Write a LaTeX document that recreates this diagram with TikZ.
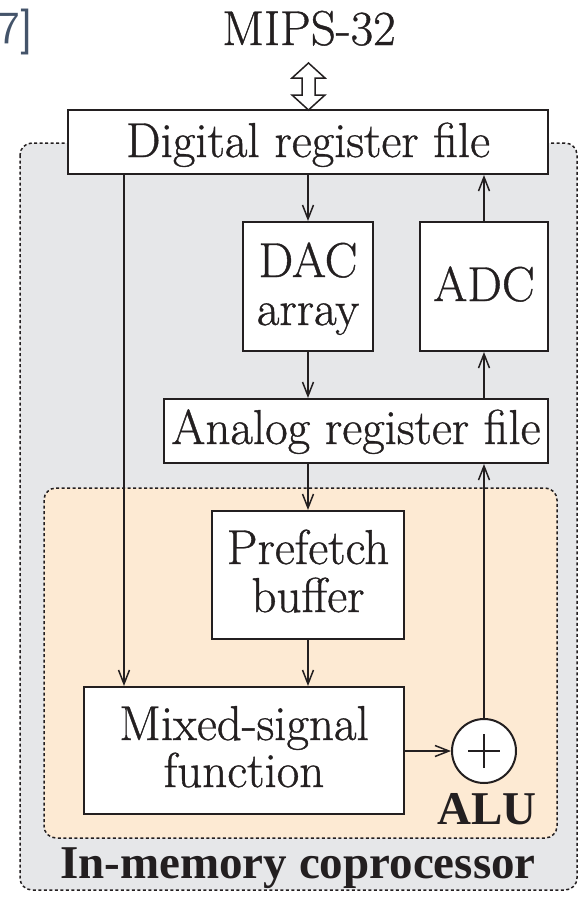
\documentclass[tikz,border=0pt]{standalone}
\usepackage{fontspec}
\setmainfont{Latin Modern Roman}[FakeBold=0.8]
\newfontfamily\timesbold{Liberation Serif}
\usetikzlibrary{arrows.meta}
\definecolor{coregray}{RGB}{230,231,233}
\definecolor{alucream}{RGB}{253,234,211}
\definecolor{inkline}{RGB}{35,31,32}
\definecolor{citeblue}{RGB}{68,84,106}
\tikzset{
  box/.style={draw=inkline, line width=2pt, fill=white, inner sep=0pt},
  txt/.style={text=inkline, inner sep=0pt, font=\fontsize{49}{56}\selectfont, anchor=base},
  bold/.style={text=inkline, inner sep=0pt, font=\timesbold\fontsize{47}{56}\selectfont\bfseries, anchor=base},
  region/.style={draw=inkline, line width=1.5pt, dash pattern=on 3pt off 2.5pt, rounded corners=12pt},
  arr/.style={draw=inkline, line width=1.5pt, -{Straight Barb[length=14pt,width=11pt,line width=1.5pt]}},
}
\begin{document}
\begin{tikzpicture}[x=1pt,y=-1pt]
\useasboundingbox (0,0) rectangle (578,898);

% fragment of a citation mark
\node[anchor=base east, inner sep=0pt, text=citeblue, font=\sffamily\fontsize{46}{52}\selectfont] (cite) at (33,43) {7]};

% coprocessor and ALU regions
\draw[region, fill=coregray] (20,143) rectangle (577,890);
\draw[region, fill=alucream] (44,488) rectangle (557,838);

% blocks
\node[box, minimum width=480pt, minimum height=64pt] (drf) at (308,142) {};
\node[box, minimum width=130pt, minimum height=129pt] (dac) at (308,286.5) {};
\node[box, minimum width=128pt, minimum height=129pt] (adc) at (484,286.5) {};
\node[box, minimum width=384pt, minimum height=64pt] (arf) at (356,431) {};
\node[box, minimum width=192pt, minimum height=128pt] (pfb) at (308,575) {};
\node[box, minimum width=320pt, minimum height=127pt] (msf) at (244,750.5) {};
\node[box, circle, minimum size=64pt] (sum) at (484,751) {};
\draw[inkline, line width=1.5pt] ([xshift=-16pt]sum.center) -- ([xshift=16pt]sum.center)
      ([yshift=-17pt]sum.center) -- ([yshift=17pt]sum.center);

% labels
\node[txt] (mips) at (309,45) {MIPS-32};
\node[txt] (drft) at (308,157) {Digital register file};
\node[txt] (dact1) at (308,277) {DAC};
\node[txt] (dact2) at (308,325) {array};
\node[txt] (adct) at (484,301) {ADC};
\node[txt] (arft) at (356,444) {Analog register file};
\node[txt] (pfbt1) at (308,564) {Prefetch};
\node[txt] (pfbt2) at (308,612) {buffer};
\node[txt] (msft1) at (244,740) {Mixed-signal};
\node[txt] (msft2) at (244,787) {function};
\node[bold, anchor=base east] (alut) at (537,824) {ALU};
\node[bold] (cpt) at (298,878) {In-memory coprocessor};

% bus to the host processor
\draw[inkline, line width=1.5pt, fill=white, line join=miter]
  (308.5,63) -- (325,78) -- (315,78) -- (315,95) -- (325,95) -- (308.5,110)
  -- (292,95) -- (302,95) -- (302,78) -- (292,78) -- cycle;

% data paths
\coordinate (tap) at (124,0);
\draw[arr] (dac.north |- drf.south) -- (dac.north);
\draw[arr] (adc.north) -- (adc.north |- drf.south);
\draw[arr] (dac.south) -- (dac.south |- arf.north);
\draw[arr] (adc.south |- arf.north) -- (adc.south);
\draw[arr] (pfb.north |- arf.south) -- (pfb.north);
\draw[arr] (pfb.south) -- (pfb.south |- msf.north);
\draw[arr] (tap |- drf.south) -- (tap |- msf.north);
\draw[arr] (msf.east |- sum.west) -- (sum.west);
\draw[arr] (sum.north) -- (sum.north |- arf.south);
\end{tikzpicture}
\end{document}
